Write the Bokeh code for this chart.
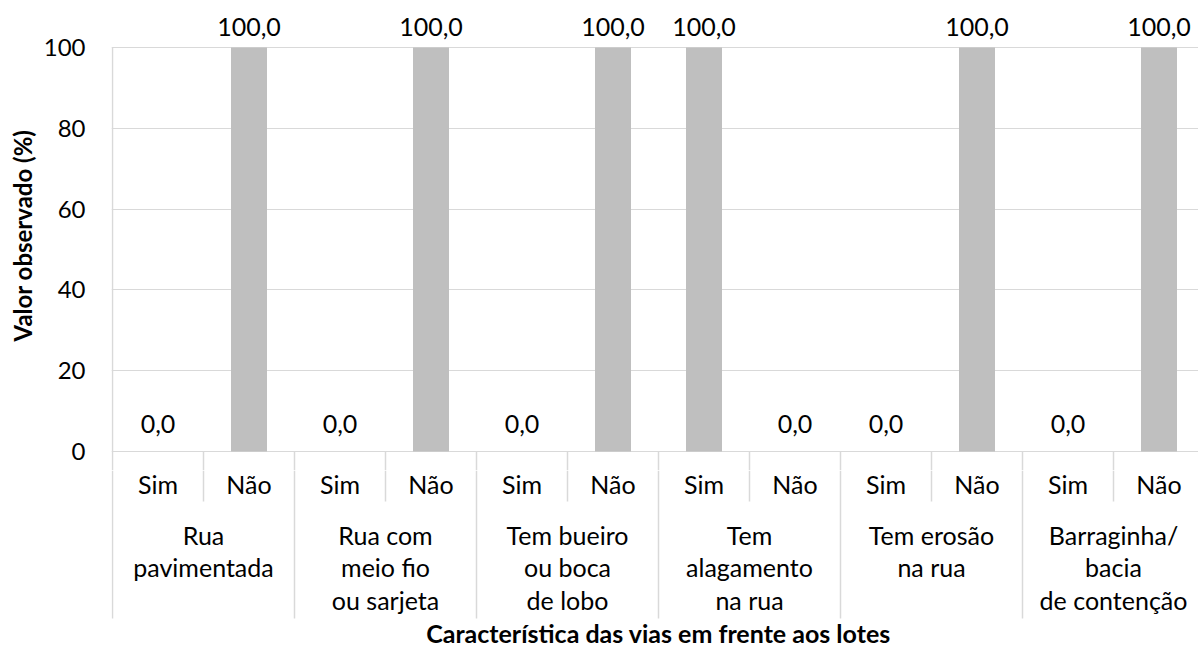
from bokeh.plotting import figure
from bokeh.models import Range1d, FixedTicker, ColumnDataSource, LabelSet
from bokeh.layouts import column
from bokeh.embed import file_html
from bokeh.resources import INLINE
from bokeh.core.properties import value

# ---- data ----
groups = ["Rua\npavimentada", "Rua com\nmeio fio\nou sarjeta", "Tem bueiro\nou boca\nde lobo",
          "Tem\nalagamento\nna rua", "Tem erosão\nna rua", "Barraginha/\nbacia\nde contenção"]
subs = ["Sim", "Não"]
values = [0.0, 100.0, 0.0, 100.0, 0.0, 100.0, 100.0, 0.0, 0.0, 100.0, 0.0, 100.0]
y_ticks = [0, 20, 40, 60, 80, 100]
y_title = "Valor observado (%)"
x_title = "Característica das vias em frente aos lotes"

FONT = "Lato"
FS = "25px"
GRID = "#D9D9D9"
BAR = "#BFBFBF"
SUBW = 91.0                 # px per sub-category
PXU = 4.04                  # px per percent unit
TOP_PX, ZERO_PX, SPLIT_PX, H = 47, 451, 470, 648

n = len(values)
xpos = [i + 0.5 for i in range(n)]
sub_labels = [subs[i % 2] for i in range(n)]
lab_txt = [f"{v:.1f}".replace(".", ",") for v in values]
lab_off = [12 if v > 0 else 19 for v in values]

x_range = Range1d(-1 / SUBW, (1198 - 112) / SUBW)
y_top = 100 + TOP_PX / PXU
y_bot = -(SPLIT_PX - ZERO_PX) / PXU

src = ColumnDataSource(dict(x=xpos, top=values, lab=lab_txt, off=lab_off))

p = figure(width=1198, height=SPLIT_PX, x_range=x_range, y_range=Range1d(y_bot, y_top),
           output_backend="svg", toolbar_location=None, x_axis_location=None,
           min_border_left=111, min_border_right=0, min_border_top=0, min_border_bottom=0,
           outline_line_color=None)
p.xgrid.visible = False
p.ygrid.grid_line_color = GRID
p.yaxis.ticker = FixedTicker(ticks=y_ticks)
p.yaxis.bounds = (0, 100)
p.yaxis.axis_line_color = None
p.yaxis.major_tick_line_color = None
p.yaxis.minor_tick_line_color = None
p.yaxis.major_tick_out = 0
p.yaxis.major_tick_in = 0
p.yaxis.major_label_standoff = 26
p.yaxis.major_label_text_font = FONT
p.yaxis.major_label_text_font_size = "24px"
p.yaxis.major_label_text_color = "#000000"
p.yaxis.axis_label = y_title
p.yaxis.axis_label_standoff = 4
p.yaxis.axis_label_text_font = FONT
p.yaxis.axis_label_text_font_size = "24px"
p.yaxis.axis_label_text_font_style = "bold"
p.yaxis.axis_label_text_color = "#000000"

p.vbar(x="x", top="top", width=36 / SUBW, source=src, fill_color=BAR, line_color=None)

labels = LabelSet(x="x", y="top", text="lab", y_offset="off", source=src, text_align="center",
                  text_baseline="alphabetic", text_font=value(FONT), text_font_size=FS,
                  text_color="#000000")
p.add_layout(labels)

# separators (upper part, below the zero line) and the left plot border
sub_sep = [2 * g + 1 for g in range(len(groups))]
grp_sep = [2 * g for g in range(1, len(groups) + 1)]
p.segment(x0=[0], y0=[y_bot], x1=[0], y1=[100], line_color=GRID, line_width=1.5)
p.segment(x0=sub_sep + grp_sep, y0=[0] * 12, x1=sub_sep + grp_sep, y1=[y_bot] * 12,
          line_color=GRID, line_width=1.5)

# ---- category axis figure ----
H2 = H - SPLIT_PX
p2 = figure(width=1198, height=H2, x_range=x_range, y_range=Range1d(H2, 0),
            output_backend="svg", toolbar_location=None, x_axis_location=None, y_axis_location=None,
            min_border_left=111, min_border_right=0, min_border_top=0, min_border_bottom=0,
            outline_line_color=None)
p2.grid.visible = False

p2.text(x=xpos, y=[483 - SPLIT_PX] * n, text=sub_labels, text_align="center", text_baseline="middle",
        text_font=value(FONT), text_font_size=FS, text_color="#000000")
p2.segment(x0=sub_sep, y0=[0] * len(sub_sep), x1=sub_sep, y1=[501 - SPLIT_PX] * len(sub_sep),
           line_color=GRID, line_width=1.5)
grp_all = [0] + grp_sep
p2.segment(x0=grp_all, y0=[0] * len(grp_all), x1=grp_all, y1=[618 - SPLIT_PX] * len(grp_all),
           line_color=GRID, line_width=1.5)

gx, gy, gt = [], [], []
for g, name in enumerate(groups):
    for k, line in enumerate(name.split("\n")):
        gx.append(2 * g + 1)
        gy.append(534 - SPLIT_PX + 32.5 * k)
        gt.append(line)
p2.text(x=gx, y=gy, text=gt, text_align="center", text_baseline="middle",
        text_font=value(FONT), text_font_size=FS, text_color="#000000")

p2.text(x=[len(groups)], y=[632 - SPLIT_PX], text=[x_title], text_align="center",
        text_baseline="middle", text_font=value(FONT), text_font_size="25px",
        text_font_style="bold", text_color="#000000")

layout = column(p, p2, spacing=0)
open("out.html", "w").write(file_html(layout, INLINE))
